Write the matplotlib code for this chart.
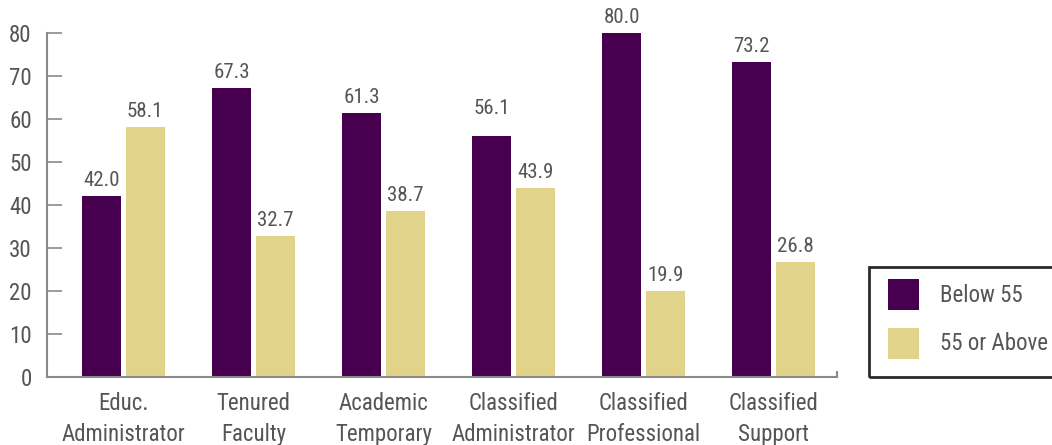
import matplotlib
matplotlib.use("Agg")
import matplotlib.pyplot as plt
from matplotlib.patches import Rectangle
from matplotlib.lines import Line2D
import numpy as np

categories = ["Educ.\nAdministrator", "Tenured\nFaculty", "Academic\nTemporary",
              "Classified\nAdministrator", "Classified\nProfessional", "Classified\nSupport"]
below_55 = [42.0, 67.3, 61.3, 56.1, 80.0, 73.2]
above_55 = [58.1, 32.7, 38.7, 43.9, 19.9, 26.8]
series_names = ["Below 55", "55 or Above"]
yticks = [0, 10, 20, 30, 40, 50, 60, 70, 80]

PURPLE = "#470050"
TAN = "#e2d38a"
TXT = "#555555"
AX = "#8a8a8a"

plt.rcParams['font.family'] = ['Liberation Sans Narrow', 'Roboto Condensed', 'DejaVu Sans']

fig = plt.figure(figsize=(10.52, 4.45), dpi=100)
W, H = 1052, 445
ax = fig.add_axes([47 / W, (H - 377) / H, (837 - 47) / W, (377 - 33) / H])

x = np.arange(len(categories))
bw = 0.3
off = 0.167
ax.bar(x - off, below_55, bw, color=PURPLE)
ax.bar(x + off, above_55, bw, color=TAN)

label_pad = [6, 6, 6, 18, 6, 6]
for i, v in enumerate(below_55):
    ax.annotate(f"{v:.1f}", (x[i] - off, v), xytext=(0, label_pad[i]), textcoords="offset pixels",
                ha="center", va="bottom", fontsize=15, color=TXT)
for i, v in enumerate(above_55):
    ax.annotate(f"{v:.1f}", (x[i] + off, v), xytext=(0, 6), textcoords="offset pixels",
                ha="center", va="bottom", fontsize=15, color=TXT)

ax.set_ylim(0, 80)
ax.set_xlim(-0.5885, 5.488)
ax.set_yticks(yticks)
ax.set_yticklabels([str(t) for t in yticks])
ax.set_xticks(x)
ax.set_xticklabels(categories, linespacing=1.45)
ax.tick_params(axis="y", direction="in", length=11, width=1.2, color=AX, pad=11,
               labelsize=16.5, labelcolor=TXT)
ax.tick_params(axis="x", length=0, pad=11, labelsize=16.5, labelcolor=TXT)
for s in ["top", "right"]:
    ax.spines[s].set_visible(False)
for s in ["left", "bottom"]:
    ax.spines[s].set_color(AX)
    ax.spines[s].set_linewidth(1.5)
ax.add_line(Line2D([1, 1], [0, 0.015], transform=ax.transAxes, color=AX, lw=1.5, clip_on=False))

# legend
fig.patches.append(Rectangle((869 / W, (H - 377) / H), (1060 - 869) / W, (377 - 267) / H,
                             transform=fig.transFigure, fill=False, edgecolor="#2a2a2a", lw=2))
for j, (name, col) in enumerate(zip(series_names, [PURPLE, TAN])):
    top = 279 + j * 49
    fig.patches.append(Rectangle((888 / W, (H - top - 31) / H), 31 / W, 31 / H,
                                 transform=fig.transFigure, facecolor=col, edgecolor="none"))
    fig.text(940 / W, (H - top - 16) / H, name, fontsize=16.5, color=TXT, va="center", ha="left")

fig.savefig("out.png", dpi=100)
